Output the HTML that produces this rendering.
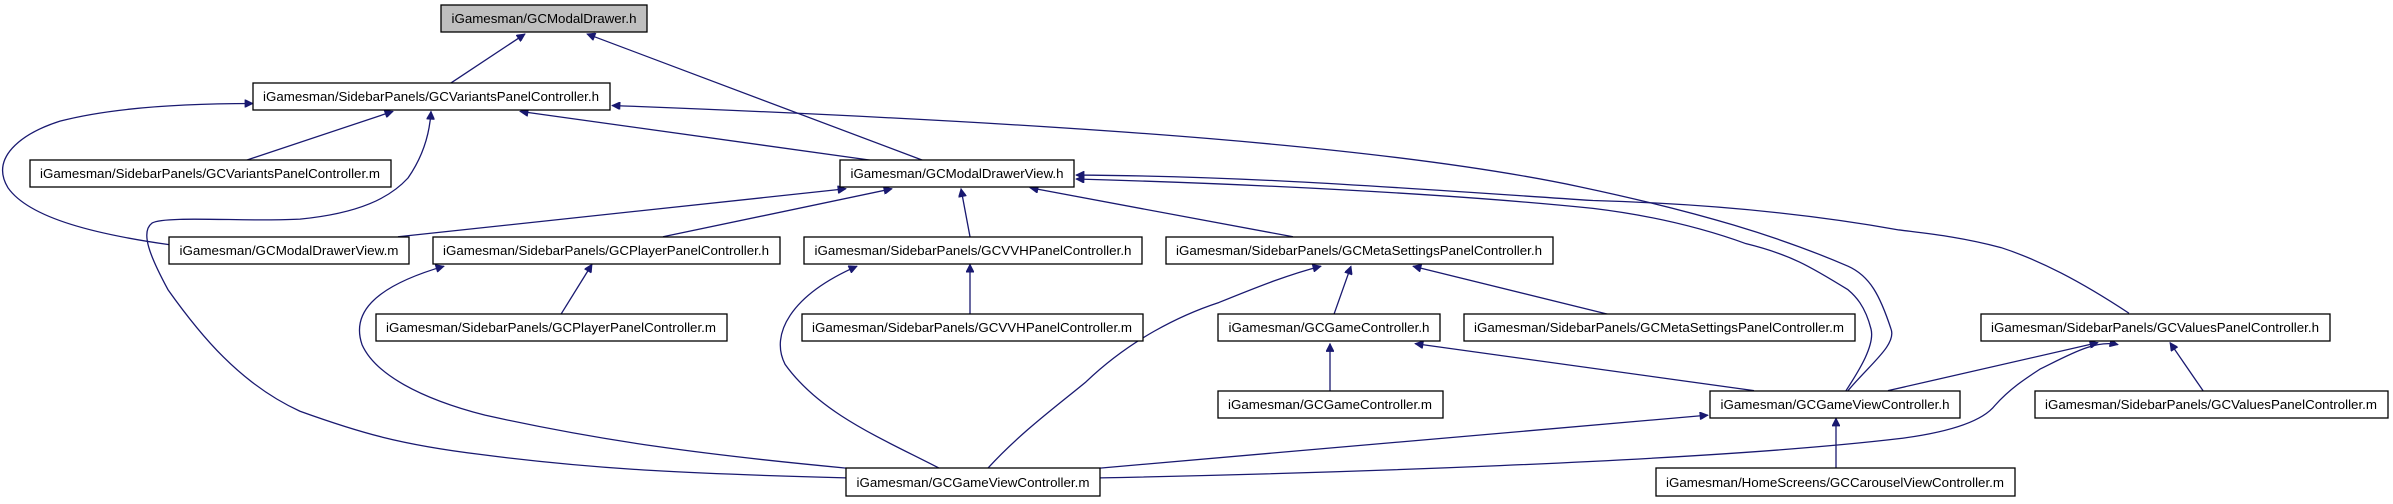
<!DOCTYPE html>
<html><head><meta charset="utf-8"><style>
html,body{margin:0;padding:0;background:#fff;}
svg{display:block;}
text{font-family:"Liberation Sans",Arial,sans-serif;font-size:13px;fill:#000;}
rect{fill:#fff;stroke:#000;stroke-width:1.3;}
path{fill:none;stroke:#191970;stroke-width:1.3;}
</style></head><body>
<svg width="2393" height="504" viewBox="0 0 2393 504" xmlns="http://www.w3.org/2000/svg">
<defs><marker id="a" viewBox="0 0 10 10" refX="10" refY="5" markerWidth="11" markerHeight="8" markerUnits="userSpaceOnUse" orient="auto"><path d="M0,0L10,5L0,10z" style="fill:#191970;stroke:#191970;stroke-width:1"/></marker></defs>
<g marker-end="url(#a)" transform="matrix(1 0 0 0.98 0 1.6)">
<path d="M451,83L525,33"/>
<path d="M923,162L587,33"/>
<path d="M246,162L393,112"/>
<path d="M169,248C100,238 30,222 8,190C-10,160 20,135 60,122C120,106 200,104 253,104"/>
<path d="M846,486C700,482 600,478 480,462C400,452 360,440 300,418C240,390 200,340 168,294C150,260 140,235 152,226C165,218 250,225 300,222C360,216 390,200 408,180C425,155 430,130 431,112"/>
<path d="M872,162L520,112"/>
<path d="M1848,397C1870,370 1897,350 1891,334C1880,300 1870,280 1848,270C1780,240 1700,215 1580,189C1400,150 1100,125 612,106"/>
<path d="M398,240L846,191"/>
<path d="M663,240L892,191"/>
<path d="M970,240L961,191"/>
<path d="M1293,240L1030,190"/>
<path d="M2129,318C2080,285 2040,264 2001,251C1960,240 1930,237 1899,233C1800,215 1700,206 1593,203C1400,190 1250,178 1076,177"/>
<path d="M1846,397C1860,375 1875,350 1871,334C1865,310 1855,300 1848,294C1810,270 1790,258 1746,247C1700,230 1650,218 1593,211C1450,196 1250,186 1076,181"/>
<path d="M970,319L970,268"/>
<path d="M561,319L592,268"/>
<path d="M846,476C700,462 600,448 485,422C420,405 375,380 362,350C352,320 370,292 444,270"/>
<path d="M939,476C880,445 820,420 785,370C770,340 790,300 857,270"/>
<path d="M988,476C1020,440 1060,410 1086,388C1130,345 1180,320 1219,307C1260,290 1290,278 1321,270"/>
<path d="M1334,319L1351,270"/>
<path d="M1608,319L1413,270"/>
<path d="M1330,397L1330,349"/>
<path d="M1754,397L1415,349"/>
<path d="M1100,476L1708,422"/>
<path d="M1100,486C1300,482 1700,470 1899,446C1960,438 1985,425 1995,412C2010,395 2025,385 2040,375C2070,360 2095,345 2118,350"/>
<path d="M1888,397L2098,348"/>
<path d="M2203,397L2170,348"/>
<path d="M1836,476L1836,425"/>
</g>
<rect x="441" y="5" width="206" height="27" style="fill:#bfbfbf"/>
<text x="544" y="23" text-anchor="middle" textLength="185" lengthAdjust="spacingAndGlyphs">iGamesman/GCModalDrawer.h</text>
<rect x="253" y="83" width="357" height="27"/>
<text x="431" y="101" text-anchor="middle" textLength="336" lengthAdjust="spacingAndGlyphs">iGamesman/SidebarPanels/GCVariantsPanelController.h</text>
<rect x="30" y="160" width="361" height="27"/>
<text x="210" y="178" text-anchor="middle" textLength="340" lengthAdjust="spacingAndGlyphs">iGamesman/SidebarPanels/GCVariantsPanelController.m</text>
<rect x="840" y="160" width="234" height="27"/>
<text x="957" y="178" text-anchor="middle" textLength="213" lengthAdjust="spacingAndGlyphs">iGamesman/GCModalDrawerView.h</text>
<rect x="169" y="237" width="240" height="27"/>
<text x="289" y="255" text-anchor="middle" textLength="219" lengthAdjust="spacingAndGlyphs">iGamesman/GCModalDrawerView.m</text>
<rect x="433" y="237" width="347" height="27"/>
<text x="606" y="255" text-anchor="middle" textLength="326" lengthAdjust="spacingAndGlyphs">iGamesman/SidebarPanels/GCPlayerPanelController.h</text>
<rect x="804" y="237" width="338" height="27"/>
<text x="973" y="255" text-anchor="middle" textLength="317" lengthAdjust="spacingAndGlyphs">iGamesman/SidebarPanels/GCVVHPanelController.h</text>
<rect x="1166" y="237" width="387" height="27"/>
<text x="1359" y="255" text-anchor="middle" textLength="366" lengthAdjust="spacingAndGlyphs">iGamesman/SidebarPanels/GCMetaSettingsPanelController.h</text>
<rect x="376" y="314" width="351" height="27"/>
<text x="551" y="332" text-anchor="middle" textLength="330" lengthAdjust="spacingAndGlyphs">iGamesman/SidebarPanels/GCPlayerPanelController.m</text>
<rect x="802" y="314" width="341" height="27"/>
<text x="972" y="332" text-anchor="middle" textLength="320" lengthAdjust="spacingAndGlyphs">iGamesman/SidebarPanels/GCVVHPanelController.m</text>
<rect x="1218" y="314" width="222" height="27"/>
<text x="1329" y="332" text-anchor="middle" textLength="201" lengthAdjust="spacingAndGlyphs">iGamesman/GCGameController.h</text>
<rect x="1464" y="314" width="391" height="27"/>
<text x="1659" y="332" text-anchor="middle" textLength="370" lengthAdjust="spacingAndGlyphs">iGamesman/SidebarPanels/GCMetaSettingsPanelController.m</text>
<rect x="1981" y="314" width="349" height="27"/>
<text x="2155" y="332" text-anchor="middle" textLength="328" lengthAdjust="spacingAndGlyphs">iGamesman/SidebarPanels/GCValuesPanelController.h</text>
<rect x="1218" y="391" width="225" height="27"/>
<text x="1330" y="409" text-anchor="middle" textLength="204" lengthAdjust="spacingAndGlyphs">iGamesman/GCGameController.m</text>
<rect x="1710" y="391" width="250" height="27"/>
<text x="1835" y="409" text-anchor="middle" textLength="229" lengthAdjust="spacingAndGlyphs">iGamesman/GCGameViewController.h</text>
<rect x="2035" y="391" width="353" height="27"/>
<text x="2211" y="409" text-anchor="middle" textLength="332" lengthAdjust="spacingAndGlyphs">iGamesman/SidebarPanels/GCValuesPanelController.m</text>
<rect x="846" y="468" width="254" height="28"/>
<text x="973" y="487" text-anchor="middle" textLength="233" lengthAdjust="spacingAndGlyphs">iGamesman/GCGameViewController.m</text>
<rect x="1656" y="468" width="359" height="28"/>
<text x="1835" y="487" text-anchor="middle" textLength="338" lengthAdjust="spacingAndGlyphs">iGamesman/HomeScreens/GCCarouselViewController.m</text>
</svg>
</body></html>
